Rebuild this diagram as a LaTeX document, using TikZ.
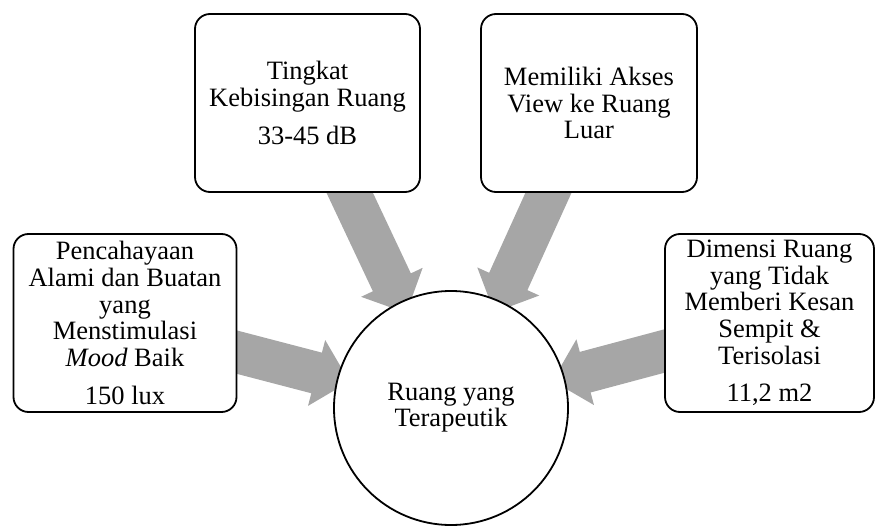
\documentclass[tikz,border=0pt]{standalone}
\usepackage{fontspec}
\setmainfont{Liberation Serif}
\usetikzlibrary{shapes.geometric, arrows.meta, backgrounds}
\definecolor{arrowgray}{RGB}{166,166,166}
\tikzstyle{criteria} = [rectangle, rounded corners=15pt, minimum width=223pt, minimum height=178pt, text centered, align=center, draw=black, line width=1.8pt, fill=white, inner sep=2pt, font=\fontsize{26.5}{26.7}\selectfont]
\tikzstyle{goal} = [circle, minimum size=234pt, text centered, align=center, draw=black, line width=1.8pt, fill=white, font=\fontsize{26.5}{26}\selectfont]
\tikzstyle{bigarrow} = [draw=arrowgray, line width=42pt, -{Triangle[length=34pt, width=66pt]}, shorten <=-20pt, shorten >=-13pt]

\begin{document}
\begin{tikzpicture}[x=1pt, y=1pt, node distance=326pt]
	\useasboundingbox (0,0) rectangle (877,-526);

		\node (room) [goal] at (451,-408) {Ruang yang\\Terapeutik};

		\node (light) [criteria, left of=room, yshift=85pt] {Pencahayaan\\Alami dan Buatan\\yang\\Menstimulasi\\\textit{Mood} Baik\\[11pt]150 lux};
		\node (dim) [criteria, right of=room, xshift=-7.5pt, yshift=85pt, minimum width=209pt] {Dimensi Ruang\\yang Tidak\\Memberi Kesan\\Sempit \&\\Terisolasi\\[11pt]11,2 m2};
		\node (noise) [criteria, above of=room, node distance=305pt, xshift=-143.5pt, minimum width=225pt] {Tingkat\\Kebisingan Ruang\\[11pt]33-45 dB};
		\node (view) [criteria, above of=room, node distance=305pt, xshift=138pt, minimum width=216pt] {Memiliki Akses\\View ke Ruang\\Luar};

		\begin{scope}[on background layer]
		\draw[bigarrow] (light) -- (room);
		\draw[bigarrow] (noise) -- (room);
		\draw[bigarrow] (view) -- (room);
		\draw[bigarrow] (dim) -- (room);
		\end{scope}
	\end{tikzpicture}
\end{document}
